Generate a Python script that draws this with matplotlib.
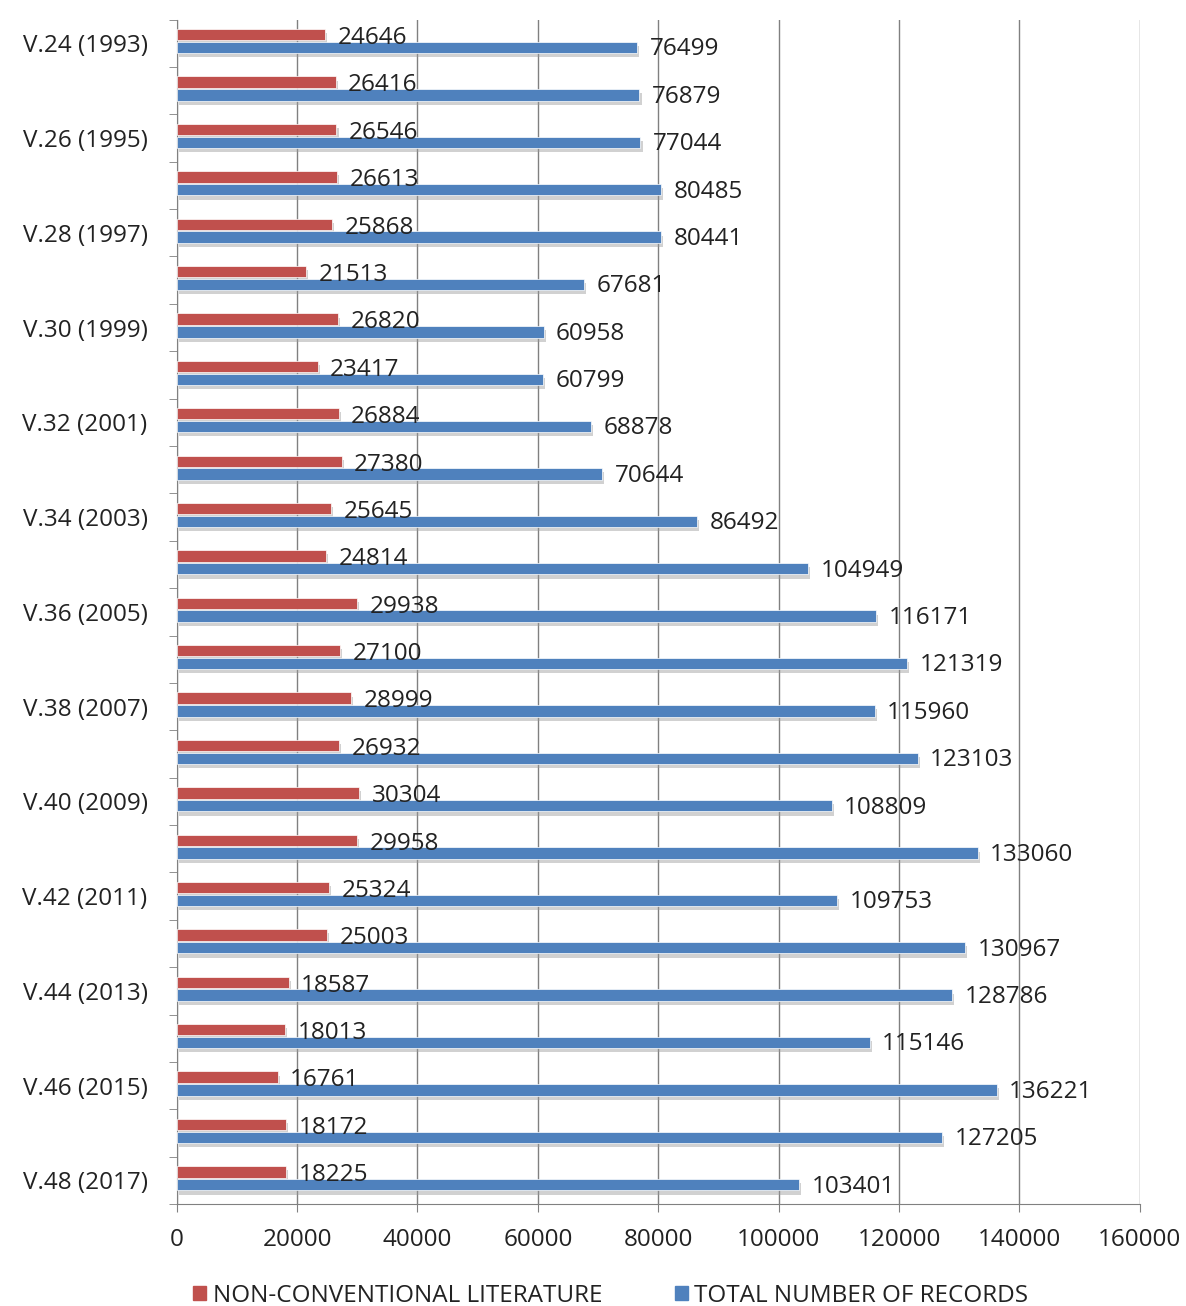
import numpy as np
import matplotlib.pyplot as plt
import matplotlib.patheffects as pe
from matplotlib.patches import Patch

plt.rcParams['font.family'] = ['Open Sans', 'DejaVu Sans']

# --- data ---
volumes = [f"V.{24 + i} ({1993 + i})" for i in range(25)]
non_conventional = [24646, 26416, 26546, 26613, 25868, 21513, 26820, 23417, 26884,
                    27380, 25645, 24814, 29938, 27100, 28999, 26932, 30304, 29958,
                    25324, 25003, 18587, 18013, 16761, 18172, 18225]
total_records = [76499, 76879, 77044, 80485, 80441, 67681, 60958, 60799, 68878,
                 70644, 86492, 104949, 116171, 121319, 115960, 123103, 108809,
                 133060, 109753, 130967, 128786, 115146, 136221, 127205, 103401]
x_ticks = [0, 20000, 40000, 60000, 80000, 100000, 120000, 140000, 160000]

RED = '#C0504D'
BLUE = '#4F81BD'
TXT = '#222222'
GRID = '#808080'
FS = 17.5

fig = plt.figure(figsize=(11.86, 13.06), dpi=100)
ax = fig.add_axes([0.149, 0.078, 0.812, 0.907])

y = np.arange(len(volumes))
h = 0.24
red_off, blue_off = -0.18, 0.09
shadow = [pe.SimplePatchShadow(offset=(1.5, -3), shadow_rgbFace='#9a9a9a', alpha=0.45), pe.Normal()]

ax.barh(y + red_off, non_conventional, height=h, color=RED,
        edgecolor='white', linewidth=0.5, zorder=3, path_effects=shadow)
ax.barh(y + blue_off, total_records, height=h, color=BLUE,
        edgecolor='white', linewidth=0.5, zorder=3, path_effects=shadow)

# value labels right of each bar
for yi, v in zip(y, non_conventional):
    ax.annotate(str(v), (v, yi + red_off + 0.07), xytext=(9, 0), textcoords='offset points',
                va='center', ha='left', fontsize=FS, color=TXT, zorder=4)
for yi, v in zip(y, total_records):
    ax.annotate(str(v), (v, yi + blue_off + 0.04), xytext=(9, 0), textcoords='offset points',
                va='center', ha='left', fontsize=FS, color=TXT, zorder=4)

ax.set_xlim(0, 160000)
ax.set_ylim(len(volumes) - 0.5, -0.5)
ax.set_xticks(x_ticks)
ax.set_xticklabels([str(t) for t in x_ticks], fontsize=FS, color=TXT)
ax.xaxis.grid(True, color=GRID, linewidth=1.0, zorder=0)

# category labels only on every other volume, ticks on the boundaries
ax.set_yticks(y)
ax.set_yticklabels([v if i % 2 == 0 else '' for i, v in enumerate(volumes)],
                   fontsize=FS, color=TXT)
ax.tick_params(axis='y', which='major', length=0, pad=21)
ax.set_yticks(np.arange(-0.5, len(volumes), 1), minor=True)
ax.tick_params(axis='y', which='minor', length=6, color=GRID)
ax.tick_params(axis='x', length=6, color=GRID, pad=11)

for s in ['top', 'right']:
    ax.spines[s].set_visible(False)
for s in ['left', 'bottom']:
    ax.spines[s].set_color(GRID)

handles = [Patch(color=RED, label='NON-CONVENTIONAL LITERATURE'),
           Patch(color=BLUE, label='TOTAL NUMBER OF RECORDS')]
fig.legend(handles=handles, loc='center', bbox_to_anchor=(0.515, 0.008), ncol=2,
           frameon=False, fontsize=FS, handlelength=0.55, handleheight=0.55,
           handletextpad=0.25, columnspacing=3.0, labelcolor=TXT)

fig.savefig('out.png', dpi=100)
